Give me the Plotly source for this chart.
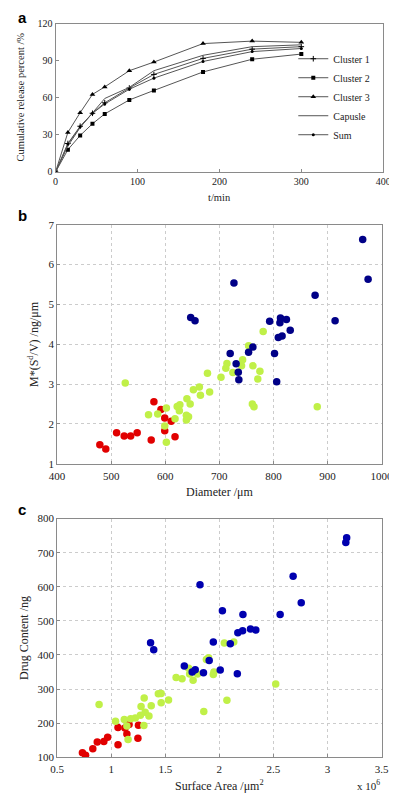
import plotly.graph_objects as go

# ---------- Panel a: release curves ----------
t_min = [0, 15, 30, 45, 60, 90, 120, 180, 240, 300]
cluster1 = [0, 23, 37, 47.5, 56, 68, 79, 92, 99.5, 101.5]
cluster2 = [0, 18, 29.5, 39, 47, 58.3, 66, 81, 91.3, 95.5]
cluster3 = [0, 32, 48, 62.8, 68.9, 82, 89, 104, 106, 105]
capsule = [0, 21, 36, 48, 59.5, 68.5, 82, 94.5, 101.5, 103]
sum_rel = [0, 22.5, 36.5, 47.5, 55, 67, 76, 89.5, 97.5, 100]
series_names = ["Cluster 1", "Cluster 2", "Cluster 3", "Capusle", "Sum"]
a_xticks = [0, 100, 200, 300, 400]
a_yticks = [0, 30, 60, 90, 120]

# ---------- Panel b: diameter vs M*(S/V) ----------
red_diam = [479, 490, 510, 524, 536, 548, 574, 579, 592, 599, 611, 599, 618]
red_msv = [1.48, 1.37, 1.78, 1.70, 1.70, 1.78, 1.60, 2.56, 2.36, 2.15, 2.07, 1.83, 1.68]
green_diam = [526, 569, 586, 602, 599, 602, 618, 622, 627, 626, 640, 646, 639, 643, 639,
              652, 663, 665, 682, 678, 703, 712, 714, 725, 741, 743, 754, 762, 775, 771,
              781, 761, 764, 881]
green_msv = [3.03, 2.23, 2.25, 2.40, 1.95, 1.54, 2.13, 2.44, 2.48, 2.33, 2.63, 2.50, 2.22, 2.18, 2.10,
             2.86, 2.93, 2.72, 2.80, 3.27, 3.17, 3.40, 3.52, 3.29, 3.46, 3.61, 3.96, 3.46, 3.32, 3.13,
             4.32, 2.50, 2.43, 2.43]
blue_diam = [965, 975, 727, 877, 914, 793, 813, 824, 812, 831, 816, 809, 762, 754, 720,
             802, 731, 735, 736, 806, 647, 655]
blue_msv = [6.63, 5.63, 5.54, 5.23, 4.59, 4.58, 4.66, 4.62, 4.54, 4.35, 4.21, 4.17, 3.93, 3.80, 3.77,
            3.77, 3.51, 3.30, 3.11, 3.06, 4.67, 4.59]
b_xticks = [400, 500, 600, 700, 800, 900, 1000]
b_yticks = [1, 2, 3, 4, 5, 6, 7]

# ---------- Panel c: surface area (x10^6 um^2) vs drug content ----------
red_sa = [0.734, 0.763, 0.83, 0.871, 0.932, 0.967, 1.063, 1.063, 1.127, 1.165, 1.145, 1.247, 1.252]
red_dc = [113, 106, 125, 145, 146, 159, 137, 187, 186, 196, 168, 156, 194]
green_sa = [0.888, 1.04, 1.121, 1.18, 1.223, 1.156, 1.145, 1.302, 1.27, 1.314, 1.349, 1.276, 1.37,
            1.305, 1.436, 1.462, 1.462, 1.53, 1.6, 1.655, 1.757, 1.725, 1.716, 1.798, 1.88, 1.856,
            1.944, 2.046, 2.07, 2.133, 1.9, 2.521, 1.95]
green_dc = [255, 206, 211, 213, 215, 152, 192, 193, 223, 232, 221, 249, 251,
            274, 286, 287, 260, 268, 334, 330, 326, 344, 361, 344, 387, 234,
            343, 435, 267, 438, 392, 315, 350]
blue_sa = [1.364, 1.393, 1.676, 1.749, 1.777, 1.853, 1.906, 1.944, 2.008, 2.028, 3.177, 3.169,
           2.682, 2.757, 2.218, 2.562, 2.171, 2.215, 2.288, 2.337, 2.101, 2.166, 1.821]
blue_dc = [436, 415, 368, 350, 357, 348, 384, 438, 356, 530, 744, 730,
           631, 553, 519, 519, 465, 471, 476, 473, 433, 345, 606]
c_xticks = [0.5, 1, 1.5, 2, 2.5, 3, 3.5]
c_xticklabels = ["0.5", "1", "1.5", "2", "2.5", "3", "3.5"]
c_yticks = [100, 200, 300, 400, 500, 600, 700, 800]

W, H = 397, 793
def px(x):
    return x / W
def py(y):
    return 1 - y / H

SERIF = "Liberation Serif"
RED = "rgb(225,0,0)"
GREEN = "rgb(192,240,72)"
BLUE_B = "rgb(0,0,135)"
BLUE_C = "rgb(0,0,175)"

fig = go.Figure()

# panel a traces
a_series = [cluster1, cluster2, cluster3, capsule, sum_rel]
a_markers = [dict(symbol="cross-thin", size=4, line=dict(width=1, color="black")),
             dict(symbol="square", size=4),
             dict(symbol="triangle-up", size=5),
             None,
             dict(symbol="circle", size=3)]
for name, ys, mk in zip(series_names, a_series, a_markers):
    if mk is None:
        fig.add_trace(go.Scatter(x=t_min, y=ys, name=name, mode="lines",
                                 line=dict(color="#555555", width=1),
                                 xaxis="x", yaxis="y"))
    else:
        mk = dict(mk)
        mk["color"] = "black"
        fig.add_trace(go.Scatter(x=t_min, y=ys, name=name, mode="lines+markers",
                                 line=dict(color="#555555", width=1), marker=mk,
                                 xaxis="x", yaxis="y"))

# panel b traces
for xs, ys, col in [(red_diam, red_msv, RED), (green_diam, green_msv, GREEN), (blue_diam, blue_msv, BLUE_B)]:
    fig.add_trace(go.Scatter(x=xs, y=ys, mode="markers", showlegend=False,
                             marker=dict(color=col, size=7.5, line=dict(width=0)),
                             xaxis="x2", yaxis="y2"))

# panel c traces
for xs, ys, col in [(red_sa, red_dc, RED), (green_sa, green_dc, GREEN), (blue_sa, blue_dc, BLUE_C)]:
    fig.add_trace(go.Scatter(x=xs, y=ys, mode="markers", showlegend=False,
                             marker=dict(color=col, size=7.5, line=dict(width=0)),
                             xaxis="x3", yaxis="y3"))

tickfont_a = dict(family=SERIF, size=10, color="#222")
tickfont_bc = dict(family=SERIF, size=11, color="#222")
axis_common = dict(showline=True, linecolor="#8a8a8a", linewidth=1, mirror=True,
                   ticks="inside", ticklen=3, tickcolor="#8a8a8a", zeroline=False)
grid_common = dict(showgrid=True, gridcolor="#cccccc", griddash="dot", gridwidth=1)

fig.update_layout(
    width=W, height=H,
    margin=dict(l=0, r=0, t=0, b=0),
    paper_bgcolor="white", plot_bgcolor="white",
    font=dict(family=SERIF, color="#222"),
    xaxis=dict(domain=[px(41.7), px(386.7)], anchor="y", range=[0, 400],
               tickvals=a_xticks, tickfont=tickfont_a, showgrid=False, **axis_common),
    yaxis=dict(domain=[py(160.3), py(10)], anchor="x", range=[0, 120],
               tickvals=a_yticks, tickfont=tickfont_a, showgrid=False, **axis_common),
    xaxis2=dict(domain=[px(43.3), px(385)], anchor="y2", range=[400, 1000],
                tickvals=b_xticks, tickfont=tickfont_bc, ticklabelstandoff=2,
                **grid_common, **axis_common),
    yaxis2=dict(domain=[py(456.7), py(214)], anchor="x2", range=[1, 7],
                tickvals=b_yticks, tickfont=tickfont_bc, **grid_common, **axis_common),
    xaxis3=dict(domain=[px(43.3), px(385)], anchor="y3", range=[0.5, 3.5],
                tickvals=c_xticks, ticktext=c_xticklabels, tickfont=tickfont_bc,
                ticklabelstandoff=2, **grid_common, **axis_common),
    yaxis3=dict(domain=[py(754.7), py(512.3)], anchor="x3", range=[100, 800],
                tickvals=c_yticks, tickfont=tickfont_bc, **grid_common, **axis_common),
    legend=dict(x=px(292), y=py(84), xanchor="left", yanchor="middle",
                bgcolor="rgba(0,0,0,0)", font=dict(family=SERIF, size=10, color="#222"),
                itemwidth=30, tracegroupgap=0),
    showlegend=True,
)

ann = []
def add_text(text, x, y, size, angle=0, bold=False, family=SERIF, xanchor="center", yanchor="middle"):
    ann.append(dict(text=text, x=px(x), y=py(y), xref="paper", yref="paper",
                    showarrow=False, textangle=angle, xanchor=xanchor, yanchor=yanchor,
                    font=dict(family=family, size=size, color="black" if bold else "#222")))

SANS = "Liberation Sans"
add_text("<b>a</b>", 0, 4, 15, bold=True, family=SANS, xanchor="left")
add_text("<b>b</b>", 0, 205, 15, bold=True, family=SANS, xanchor="left")
add_text("<b>c</b>", 0, 503, 15, bold=True, family=SANS, xanchor="left")

add_text("Cumulative release percent /%", 5, 84, 10.5, angle=-90)
add_text("t/min", 214, 186, 10.5)
add_text("M*(S<sup>d</sup>/V) /ng/μm", 19, 335, 12, angle=-90)
add_text("Diameter /μm", 214, 485, 12)
add_text("Drug Content /ng", 9, 634, 12, angle=-90)
add_text("Surface Area /μm<sup>2</sup>", 214, 783, 12)
add_text("x 10<sup>6</sup>", 371, 783, 11)

fig.update_layout(annotations=ann)
fig.write_html("out.html")
